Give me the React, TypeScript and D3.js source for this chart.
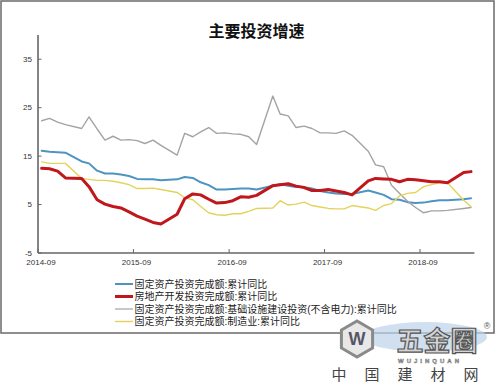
import React from "react";
import * as d3 from "d3";

const months = [
  "2014-09", "2014-10", "2014-11", "2014-12",
  "2015-02", "2015-03", "2015-04", "2015-05", "2015-06", "2015-07", "2015-08", "2015-09", "2015-10", "2015-11", "2015-12",
  "2016-02", "2016-03", "2016-04", "2016-05", "2016-06", "2016-07", "2016-08", "2016-09", "2016-10", "2016-11", "2016-12",
  "2017-02", "2017-03", "2017-04", "2017-05", "2017-06", "2017-07", "2017-08", "2017-09", "2017-10", "2017-11", "2017-12",
  "2018-02", "2018-03", "2018-04", "2018-05", "2018-06", "2018-07", "2018-08", "2018-09", "2018-10", "2018-11", "2018-12",
  "2019-02", "2019-03",
];

const faiTotal = [
  16.1, 15.9, 15.8, 15.7,
  13.9, 13.5, 12.0, 11.4, 11.4, 11.2, 10.9, 10.3, 10.2, 10.2, 10.0,
  10.2, 10.7, 10.5, 9.6, 9.0, 8.1, 8.1, 8.2, 8.3, 8.3, 8.1,
  8.9, 9.2, 8.9, 8.6, 8.6, 8.3, 7.8, 7.5, 7.3, 7.2, 7.2,
  7.9, 7.5, 7.0, 6.1, 6.0, 5.5, 5.3, 5.4, 5.7, 5.9, 5.9,
  6.1, 6.3,
];

const realEstate = [
  12.5, 12.4, 11.9, 10.5,
  10.4, 8.7, 6.0, 5.1, 4.6, 4.3, 3.5, 2.6, 2.0, 1.3, 1.0,
  3.0, 6.2, 7.2, 7.0, 6.1, 5.3, 5.4, 5.8, 6.6, 6.5, 6.9,
  8.9, 9.1, 9.3, 8.8, 8.5, 7.9, 7.9, 8.1, 7.8, 7.5, 7.0,
  9.9, 10.4, 10.3, 10.2, 9.7, 10.2, 10.1, 9.9, 9.7, 9.7, 9.5,
  11.6, 11.8,
];

const infra = [
  22.3, 22.8, 22.0, 21.5,
  20.7, 23.1, 20.6, 18.3, 19.1, 18.3, 18.4, 18.2, 17.6, 18.3, 17.2,
  15.2, 19.7, 19.0, 20.0, 20.9, 19.7, 19.8, 19.6, 19.5, 19.0, 17.4,
  27.4, 23.7, 23.3, 20.9, 21.2, 20.7, 19.8, 19.8, 19.7, 20.2, 19.3,
  16.0, 13.2, 12.8, 9.0, 7.3, 5.7, 4.4, 3.3, 3.7, 3.7, 3.8,
  4.2, 4.4,
];

const manufacturing = [
  13.8, 13.5, 13.5, 13.5,
  10.4, 10.2, 10.0, 10.0, 9.8, 9.5, 9.1, 8.3, 8.3, 8.4, 8.1,
  7.5, 6.4, 6.0, 4.6, 3.3, 2.9, 2.8, 3.1, 3.1, 3.6, 4.2,
  4.3, 5.8, 4.9, 5.1, 5.5, 4.8, 4.5, 4.2, 4.1, 4.1, 4.8,
  4.3, 3.8, 4.8, 5.2, 6.8, 7.3, 7.5, 8.7, 9.1, 9.5, 9.5,
  5.9, 4.6,
];

const yTicks = [35, 25, 15, 5, -5];
const xTickLabels = ["2014-09", "2015-09", "2016-09", "2017-09", "2018-09"];

const title = "主要投资增速";
const legendLabels = [
  "固定资产投资完成额:累计同比",
  "房地产开发投资完成额:累计同比",
  "固定资产投资完成额:基础设施建设投资(不含电力):累计同比",
  "固定资产投资完成额:制造业:累计同比",
];

const parseMonth = (s: string) => {
  const [yy, mm] = s.split("-").map(Number);
  return new Date(yy, mm - 1, 15);
};
const parseTick = (s: string) => {
  const [yy, mm] = s.split("-").map(Number);
  return new Date(yy, mm - 1, 1);
};

export default function App() {
  const x = d3
    .scaleTime()
    .domain([new Date(2014, 8, 1), new Date(2019, 2, 28)])
    .range([38, 474.4]);
  const y = d3.scaleLinear().domain([-5, 40]).range([253, 35]);

  const dates = months.map(parseMonth);
  const line = d3
    .line<number>()
    .x((_, i) => x(dates[i]))
    .y((v) => y(v));

  const series = [
    { values: faiTotal, color: "#4d94c1", width: 2 },
    { values: infra, color: "#a3a3a3", width: 1.4 },
    { values: manufacturing, color: "#e3d35c", width: 1.4 },
    { values: realEstate, color: "#c0171c", width: 3 },
  ];
  const legendStyles = [
    { color: "#4d94c1", width: 2 },
    { color: "#c0171c", width: 3 },
    { color: "#a3a3a3", width: 1.2 },
    { color: "#e3d35c", width: 1.4 },
  ];
  const legendY = [284, 296.5, 309, 321.5];

  const axisColor = "#666";
  const font = "Arial, 'Liberation Sans', sans-serif";
  const cjk = "'Noto Sans CJK SC', sans-serif";
  const mixed = "'Liberation Sans', 'Noto Sans CJK SC', sans-serif";

  const hex = d3.range(6).map((k) => {
    const a = (Math.PI / 3) * k + Math.PI / 6;
    return [357 + 18 * Math.cos(a), 339 + 18 * Math.sin(a)];
  });

  return (
    <svg
      width={500}
      height={385}
      style={{ position: "absolute", left: 0, top: 0, background: "#fff" }}
    >
      <rect x={0} y={0} width={500} height={385} fill="#fff" />
      <rect x={1} y={1} width={493} height={332} fill="none" stroke="#6a6a6a" strokeWidth={1.5} />

      <text
        x={256.5}
        y={37}
        textAnchor="middle"
        fontFamily={cjk}
        fontWeight={700}
        fontSize={16}
        fill="#111"
      >
        {title}
      </text>

      {/* axes */}
      <line x1={38} y1={35} x2={38} y2={253} stroke={axisColor} strokeWidth={1.6} />
      <line x1={38} y1={253} x2={474.4} y2={253} stroke={axisColor} strokeWidth={1.6} />
      {yTicks.map((t) => (
        <g key={t}>
          <line x1={38} x2={41.5} y1={y(t)} y2={y(t)} stroke={axisColor} strokeWidth={1} />
          <text
            x={32}
            y={y(t)}
            dy="0.35em"
            textAnchor="end"
            fontFamily={font}
            fontSize={8}
            fill="#333"
          >
            {t}
          </text>
        </g>
      ))}
      {xTickLabels.map((t) => {
        const px = x(parseTick(t));
        return (
          <g key={t}>
            <line x1={px} x2={px} y1={249} y2={253} stroke={axisColor} strokeWidth={1} />
            <text
              x={px + 3}
              y={265}
              textAnchor="middle"
              fontFamily={font}
              fontSize={8}
              fill="#333"
            >
              {t}
            </text>
          </g>
        );
      })}

      {/* series */}
      {series.map((s, i) => (
        <path
          key={i}
          d={line(s.values) || ""}
          fill="none"
          stroke={s.color}
          strokeWidth={s.width}
          strokeLinejoin="round"
          strokeLinecap="round"
        />
      ))}

      {/* legend */}
      {legendLabels.map((lab, i) => (
        <g key={lab}>
          <line
            x1={115}
            x2={133}
            y1={legendY[i]}
            y2={legendY[i]}
            stroke={legendStyles[i].color}
            strokeWidth={legendStyles[i].width}
          />
          <text
            x={134.5}
            y={legendY[i]}
            dy="0.36em"
            fontFamily={mixed}
            fontSize={10}
            fill="#222"
          >
            {lab}
          </text>
        </g>
      ))}

      {/* watermark */}
      <ellipse cx={425} cy={337} rx={62} ry={15} fill="#bcd3ea" opacity={0.7} />
      <polygon
        points={hex.map((p) => p.join(",")).join(" ")}
        fill="#e8e8e8"
        stroke="#8a8a8a"
        strokeWidth={3}
      />
      <text
        x={357}
        y={345}
        textAnchor="middle"
        fontFamily={font}
        fontWeight={700}
        fontSize={18}
        fill="#556"
      >
        W
      </text>
      <text
        x={437}
        y={351}
        textAnchor="middle"
        fontFamily={mixed}
        fontWeight={700}
        fontSize={27}
        fill="#d4d4d4"
        stroke="#555"
        strokeWidth={1.2}
      >
        五金圈
      </text>
      <text x={487} y={329} fontFamily={font} fontSize={9} fill="#555" textAnchor="middle">
        ®
      </text>
      <text
        x={430}
        y={363}
        textAnchor="middle"
        fontFamily={font}
        fontWeight={700}
        fontSize={6}
        letterSpacing={3}
        fill="#ccc"
        stroke="#666"
        strokeWidth={0.4}
      >
        WUJINQUAN
      </text>
      <text
        x={414}
        y={380}
        textAnchor="middle"
        fontFamily={mixed}
        fontSize={15}
        letterSpacing={18}
        fill="#444"
      >
        中国建材网
      </text>
    </svg>
  );
}
